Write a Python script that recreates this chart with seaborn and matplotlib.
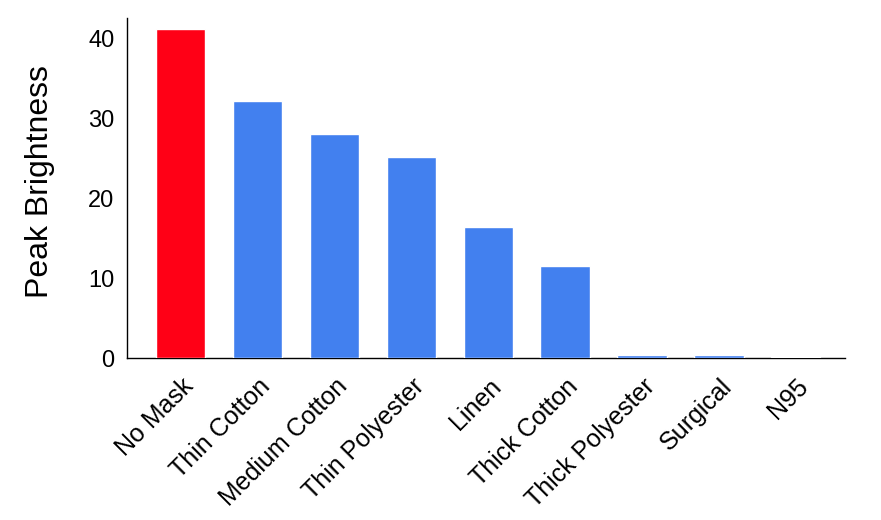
import matplotlib
matplotlib.use("Agg")
import matplotlib.pyplot as plt
import matplotlib.transforms as mtransforms
import seaborn as sns
import pandas as pd

# data
masks = ['No Mask', 'Thin Cotton', 'Medium Cotton', 'Thin Polyester', 'Linen',
         'Thick Cotton', 'Thick Polyester', 'Surgical', 'N95']
brightness = [41.1, 32.1, 28.0, 25.1, 16.4, 11.5, 0.35, 0.35, 0.15]
bar_colors = ['#FF0016'] + ['#4280EF'] * 8

sns.set_style('white')
plt.rcParams['font.family'] = ['Liberation Sans', 'DejaVu Sans']
plt.rcParams['text.color'] = 'black'
plt.rcParams['axes.labelcolor'] = 'black'
plt.rcParams['xtick.color'] = 'black'
plt.rcParams['ytick.color'] = 'black'

df = pd.DataFrame({'Mask': masks, 'Peak Brightness': brightness})

fig = plt.figure(figsize=(8.81, 5.2), dpi=100)
ax = fig.add_axes([0.1442, 0.3115, 0.9592 - 0.1442, 0.965 - 0.3115])

sns.barplot(data=df, x='Mask', y='Peak Brightness', hue='Mask',
            palette=bar_colors, legend=False, width=0.64, saturation=1, ax=ax)

ax.set_xlim(-0.695, 8.64)
ax.set_ylim(0, 42.5)
ax.set_yticks([0, 10, 20, 30, 40])
ax.set_xlabel('')
ax.set_ylabel('Peak Brightness', fontsize=23)
ax.yaxis.set_label_coords(-0.101, 0.52)
ax.tick_params(axis='both', length=0)
ax.tick_params(axis='y', pad=9, labelsize=17)
ax.tick_params(axis='x', pad=14, labelsize=18)

# nudge the slanted labels a bit right / down like the original
offset = mtransforms.ScaledTranslation(0.09, -0.05, fig.dpi_scale_trans)
for lbl in ax.get_xticklabels():
    lbl.set_rotation(45)
    lbl.set_ha('right')
    lbl.set_va('center')
    lbl.set_rotation_mode('anchor')
    lbl.set_transform(lbl.get_transform() + offset)

for s in ['top', 'right']:
    ax.spines[s].set_visible(False)
for s in ['left', 'bottom']:
    ax.spines[s].set_color('black')
    ax.spines[s].set_linewidth(1)
    ax.spines[s].set_zorder(0.5)

fig.savefig('out.png', dpi=100)
